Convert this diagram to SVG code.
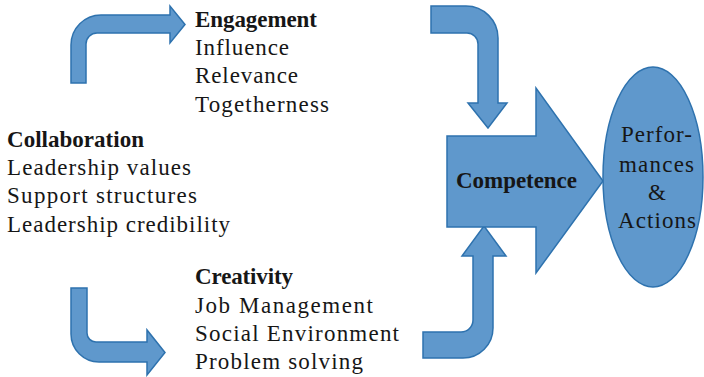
<svg xmlns="http://www.w3.org/2000/svg" width="704" height="377" viewBox="0 0 704 377">
  <style>
    .shape { fill: #5F98CC; stroke: #2E72AE; stroke-width: 1.5; stroke-linejoin: miter; }
    .t { font-family: "Liberation Serif", "Times New Roman", serif; font-size: 23px; fill: #161616; }
    .head { font-weight: bold; }
  </style>
  <rect width="704" height="377" fill="#ffffff"/>

  <!-- bent block arrows linking the factor groups to competence -->
  <g id="connectors">
    <path class="shape" d="M71,83 L71,45 A30,30 0 0 1 101,15 L170,15 L170,6 L185,24.5 L170,43 L170,33 L97,33 A11,11 0 0 0 86,44 L86,83 Z"/>
    <path class="shape" d="M431,6 L466,6 A32,32 0 0 1 498,38 L498,103 L507,103 L488,128 L468,103 L478,103 L478,44 A11,11 0 0 0 467,33 L431,33 Z"/>
    <path class="shape" d="M71,288 L87,288 L87,333 A9,9 0 0 0 96,342 L147,342 L147,330 L165,352.5 L147,375 L147,362 L99,362 A28,28 0 0 1 71,334 Z"/>
    <path class="shape" d="M423,332 L461,332 A12,12 0 0 0 473,320 L473,256 L462,256 L484,226 L506,256 L493,256 L493,328 A30,30 0 0 1 463,358 L423,358 Z"/>
  </g>

  <g id="engagement">
    <text class="t head" x="195" y="27" textLength="122" lengthAdjust="spacing">Engagement</text>
    <text class="t" x="195" y="55" textLength="94" lengthAdjust="spacing">Influence</text>
    <text class="t" x="195" y="83" textLength="103" lengthAdjust="spacing">Relevance</text>
    <text class="t" x="195" y="112" textLength="134" lengthAdjust="spacing">Togetherness</text>
  </g>

  <g id="collaboration">
    <text class="t head" x="7" y="147" textLength="137" lengthAdjust="spacing">Collaboration</text>
    <text class="t" x="7" y="175" textLength="184" lengthAdjust="spacing">Leadership values</text>
    <text class="t" x="7" y="203" textLength="190" lengthAdjust="spacing">Support structures</text>
    <text class="t" x="7" y="232" textLength="223" lengthAdjust="spacing">Leadership credibility</text>
  </g>

  <g id="creativity">
    <text class="t head" x="195" y="284" textLength="98" lengthAdjust="spacing">Creativity</text>
    <text class="t" x="195" y="313" textLength="178" lengthAdjust="spacing">Job Management</text>
    <text class="t" x="195" y="341" textLength="204" lengthAdjust="spacing">Social Environment</text>
    <text class="t" x="195" y="369" textLength="168" lengthAdjust="spacing">Problem solving</text>
  </g>

  <g id="competence">
    <path class="shape" d="M447,136 L536,136 L536,88 L603,181 L536,273 L536,227 L447,227 Z"/>
    <text class="t head" x="456" y="188" textLength="121" lengthAdjust="spacing">Competence</text>
  </g>

  <g id="performances">
    <ellipse class="shape" cx="653" cy="177" rx="50" ry="110"/>
    <text class="t" x="621" y="142" textLength="71" lengthAdjust="spacing">Perfor-</text>
    <text class="t" x="619" y="172" textLength="75" lengthAdjust="spacing">mances</text>
    <text class="t" x="657" y="200" text-anchor="middle">&amp;</text>
    <text class="t" x="618" y="228" textLength="78" lengthAdjust="spacing">Actions</text>
  </g>
</svg>
